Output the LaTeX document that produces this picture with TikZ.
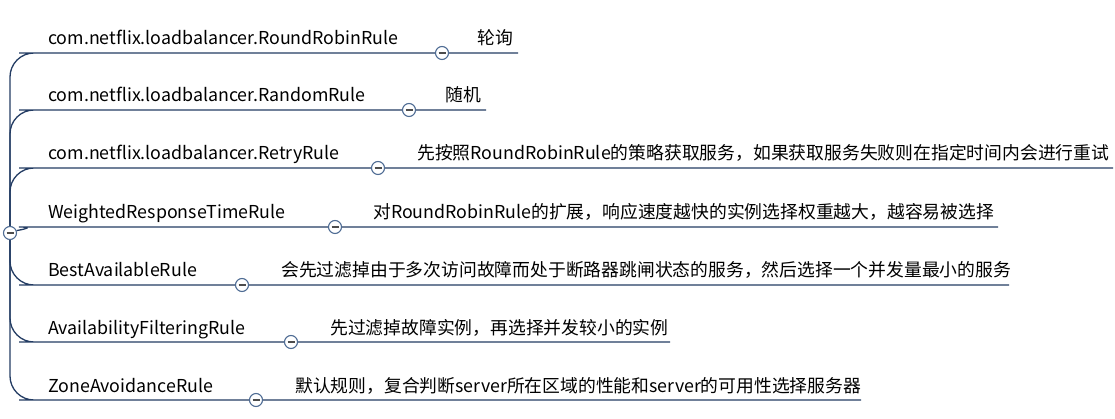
\documentclass[tikz,border=0pt]{standalone}
\usepackage{fontspec}
\setmainfont{Noto Sans CJK SC}
\usepackage{tikz}
\definecolor{linkblue}{HTML}{233C63}
\definecolor{foldblue}{HTML}{4F6C94}

\begin{document}
\begin{tikzpicture}[x=1pt, y=-1pt,
        branch/.style={draw=linkblue, line width=1.3pt, rounded corners=24pt},
        fold/.style={circle, draw=foldblue, fill=white, line width=1.1pt,
            minimum size=13pt, inner sep=0pt,
            path picture={\draw[line width=1.4pt, black!70]
                ([xshift=-3.5pt]path picture bounding box.center) --
                ([xshift=3.5pt]path picture bounding box.center);}},
        rule/.style={anchor=base west, inner sep=0pt, font=\fontsize{17.8}{20}\selectfont},
        note/.style={rule}]
    \useasboundingbox (0,0) rectangle (1115,419);

    % root toggle
    \node[fold] (root) at (10,233) {};

    % rule names
    \node[rule] (rr)  at (48,45)  {com.netflix.loadbalancer.RoundRobinRule};
    \node[rule] (rnd) at (48,102) {com.netflix.loadbalancer.RandomRule};
    \node[rule] (rty) at (48,160) {com.netflix.loadbalancer.RetryRule};
    \node[rule] (wrt) at (48,219) {WeightedResponseTimeRule};
    \node[rule] (bar) at (48,277) {BestAvailableRule};
    \node[rule] (afr) at (48,334) {AvailabilityFilteringRule};
    \node[rule] (zar) at (48,392) {ZoneAvoidanceRule};

    % toggles
    \node[fold] (rrf)  at (442,53)  {};
    \node[fold] (rndf) at (409,110) {};
    \node[fold] (rtyf) at (378,168) {};
    \node[fold] (wrtf) at (335,227) {};
    \node[fold] (barf) at (242,285) {};
    \node[fold] (afrf) at (291,342) {};
    \node[fold] (zarf) at (256,400) {};

    % descriptions
    \node[note] (rrn)  at (477,45)  {轮询};
    \node[note] (rndn) at (445,102) {随机};
    \node[note] (rtyn) at (417,160) {先按照RoundRobinRule的策略获取服务，如果获取服务失败则在指定时间内会进行重试};
    \node[note] (wrtn) at (373,219) {对RoundRobinRule的扩展，响应速度越快的实例选择权重越大，越容易被选择};
    \node[note] (barn) at (281,277) {会先过滤掉由于多次访问故障而处于断路器跳闸状态的服务，然后选择一个并发量最小的服务};
    \node[note] (afrn) at (330,334) {先过滤掉故障实例，再选择并发较小的实例};
    \node[note] (zarn) at (295,392) {默认规则，复合判断server所在区域的性能和server的可用性选择服务器};

    % line starts and ends
    \coordinate (rrs)  at (43,53);   \coordinate (rre)  at (518,53);
    \coordinate (rnds) at (43,110);  \coordinate (rnde) at (486,110);
    \coordinate (rtys) at (43,168);  \coordinate (rtye) at (1113,168);
    \coordinate (wrts) at (43,227);  \coordinate (wrte) at (998,227);
    \coordinate (bars) at (43,285);  \coordinate (bare) at (1009,285);
    \coordinate (afrs) at (43,342);  \coordinate (afre) at (670,342);
    \coordinate (zars) at (43,400);  \coordinate (zare) at (861,400);

    % branches
    \draw[branch] (root.north) |- (rrs) -- (rrf) -- (rre);
    \draw[branch] (root.north) |- (rnds) -- (rndf) -- (rnde);
    \draw[branch] (root.north) |- (rtys) -- (rtyf) -- (rtye);
    \draw[branch] (root.20) to[out=10, in=180] (wrts) -- (wrtf) -- (wrte);
    \draw[branch] (root.south) |- (bars) -- (barf) -- (bare);
    \draw[branch] (root.south) |- (afrs) -- (afrf) -- (afre);
    \draw[branch] (root.south) |- (zars) -- (zarf) -- (zare);
\end{tikzpicture}
\end{document}
